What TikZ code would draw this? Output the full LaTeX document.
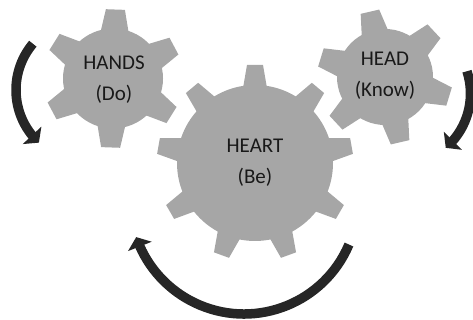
\documentclass[tikz,border=0pt]{standalone}
\usepackage{fontspec}
\setmainfont{Carlito}
\usetikzlibrary{arrows.meta,bending}
\definecolor{gearfill}{HTML}{A6A6A6}
\definecolor{arrowdark}{HTML}{262626}

% \cogwheel{center}{body radius}{tip radius}{teeth}{first tooth angle}{tip half width}{base half width}
\newcommand{\cogwheel}[7]{%
  \fill[gearfill] #1 circle[radius=#2pt];
  \pgfmathsetmacro{\toothstep}{360/#4}
  \foreach \k in {1,...,#4}{
    \begin{scope}[shift={#1}, rotate={#5+(\k-1)*\toothstep}]
      \fill[gearfill] ({#2-6},{-#7}) -- (#3,{-#6}) -- (#3,#6) -- ({#2-6},#7) -- cycle;
    \end{scope}
  }%
}

\tikzset{
  gearlabel/.style={align=center, font=\fontsize{21}{31}\selectfont, text=black!90},
  cyclearrow/.style={draw=arrowdark, line width=9.5pt,
    -{Triangle[length=10pt,width=25pt,flex]}},
}

\begin{document}
\begin{tikzpicture}[x=1pt,y=1pt]
  \useasboundingbox (0,0) rectangle (473,320);
  \clip (0,0) rectangle (473,320);

  % three cogwheels
  \cogwheel{(113,241.5)}{50}{69}{6}{88}{9.5}{14.5}
  \cogwheel{(385,243)}{48}{67}{6}{103}{9.5}{14}
  \cogwheel{(255,157)}{78}{98}{9}{90}{8}{12.5}

  \node[gearlabel] (hands) at (114,240) {HANDS\\(Do)};
  \node[gearlabel] (head)  at (385,244) {HEAD\\(Know)};
  \node[gearlabel] (heart) at (255,157) {HEART\\(Be)};

  % centres of the circular arrows
  \coordinate (leftc)   at (88,230);
  \coordinate (rightc)  at (398.5,226.5);
  \coordinate (bottomc) at (244,120);

  \draw[cyclearrow] ([shift={(140:72)}]leftc) arc[start angle=140, end angle=227, radius=72pt];
  \draw[cyclearrow] ([shift={(18:72)}]rightc) arc[start angle=18, end angle=-49, radius=72pt];
  \draw[cyclearrow] ([shift={(-23:114)}]bottomc) arc[start angle=-23, end angle=-161, radius=114pt];
\end{tikzpicture}
\end{document}
